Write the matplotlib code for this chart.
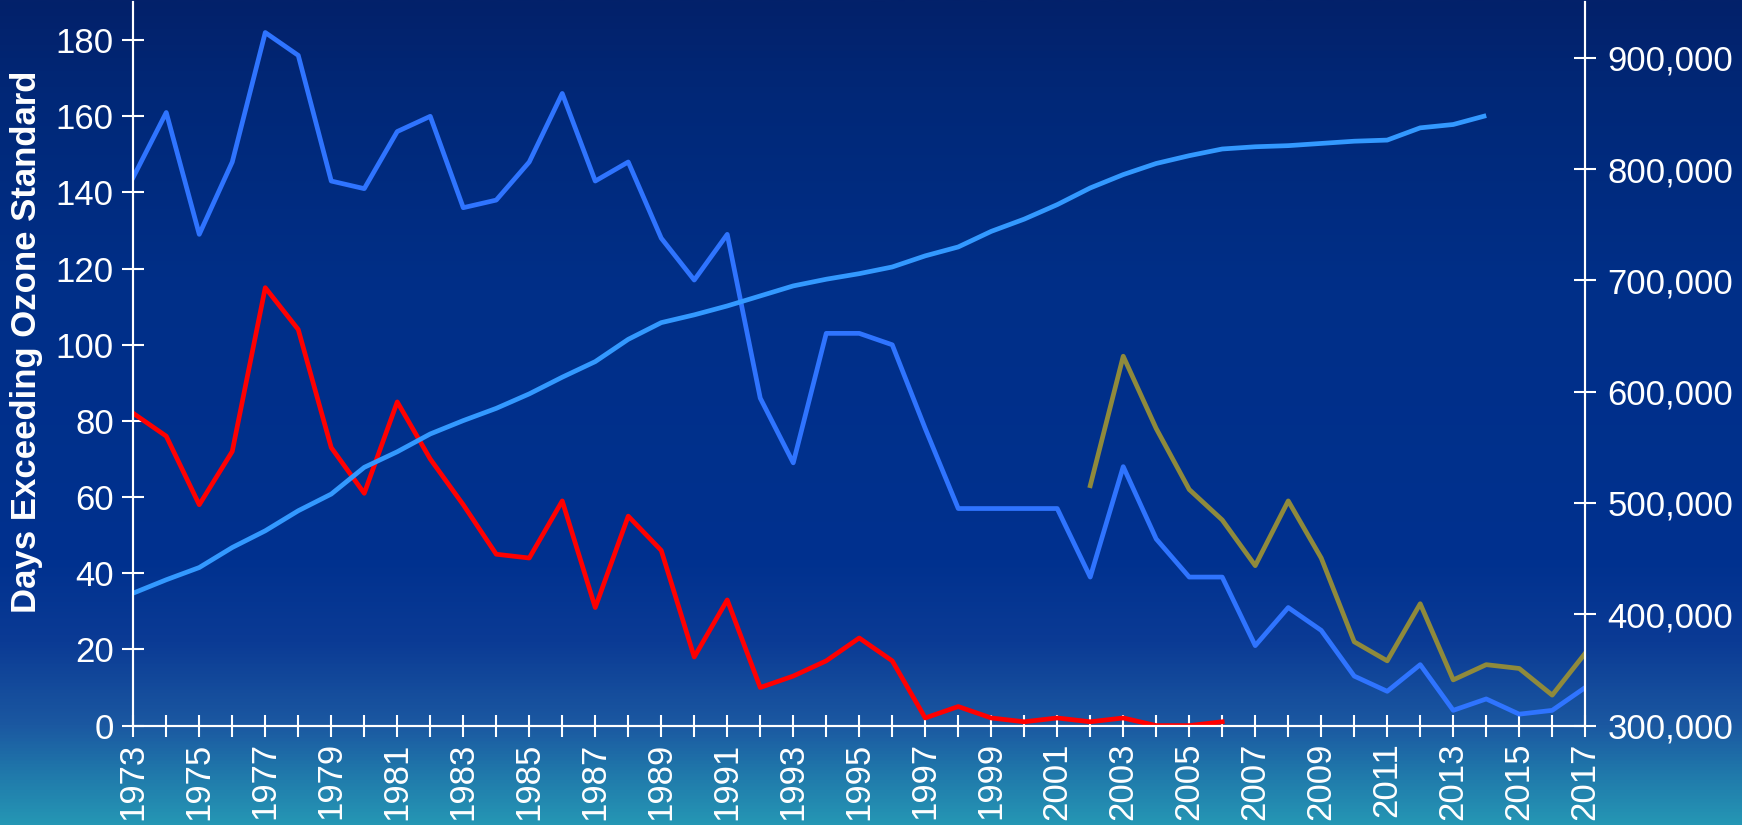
import numpy as np
import matplotlib.pyplot as plt
from matplotlib.colors import LinearSegmentedColormap
from matplotlib.ticker import FuncFormatter

plt.rcParams['font.family'] = ['Liberation Sans', 'DejaVu Sans']

years = list(range(1973, 2018))

# days exceeding standard (blue, whole period)
days_blue = [144, 161, 129, 148, 182, 176, 143, 141, 156, 160,
             136, 138, 148, 166, 143, 148, 128, 117, 129, 86,
             69, 103, 103, 100, 78, 57, 57, 57, 57, 39,
             68, 49, 39, 39, 21, 31, 25, 13, 9, 16,
             4, 7, 3, 4, 10]

# red series, 1973-2006
years_red = list(range(1973, 2007))
days_red = [82, 76, 58, 72, 115, 104, 73, 61, 85, 70,
            58, 45, 44, 59, 31, 55, 46, 18, 33, 10,
            13, 17, 23, 17, 2, 5, 2, 1, 2, 1,
            2, 0, 0, 1]

# olive series, 2002-2017
years_olive = list(range(2002, 2018))
days_olive = [63, 97, 78, 62, 54, 42, 59, 44, 22, 17,
              32, 12, 16, 15, 8, 19]

# population (right axis), 1973-2014
years_pop = list(range(1973, 2015))
population = [419000, 431000, 442000, 460000, 475000, 493000, 508000, 532000, 546000, 562000,
              574000, 585000, 598000, 613000, 627000, 647000, 662000, 669000, 677000, 686000,
              695000, 701000, 706000, 712000, 722000, 730000, 744000, 755000, 768000, 783000,
              795000, 805000, 812000, 818000, 820000, 821000, 823000, 825000, 826000, 837000,
              840000, 848000]

fig = plt.figure(figsize=(17.42, 8.25), dpi=100)

# gradient background
bg = fig.add_axes([0, 0, 1, 1], zorder=0)
cmap = LinearSegmentedColormap.from_list('bg', [
    (0.0, '#2596b4'), (0.06, '#2079ab'), (0.12, '#1b58a1'),
    (0.22, '#0b3b95'), (0.32, '#00318f'), (0.65, '#002f88'),
    (0.88, '#012878'), (1.0, '#03216a')])
grad = np.linspace(0, 1, 512).reshape(-1, 1)
bg.imshow(grad, aspect='auto', cmap=cmap, origin='lower', extent=[0, 1, 0, 1])
bg.axis('off')

ax = fig.add_axes([0.0765, 0.1205, 0.8335, 0.877], zorder=1)
ax.patch.set_alpha(0)
ax2 = ax.twinx()

ax2.plot(years_pop, population, color='#3399ff', lw=3.4, solid_capstyle='butt')
ax.plot(years, days_blue, color='#2f74ff', lw=3.4)
ax.plot(years_red, days_red, color='#ff0000', lw=3.4)
ax.plot(years_olive, days_olive, color='#8f8a3c', lw=3.4)

ax.set_xlim(1973, 2017)
ax.set_ylim(0, 190)
ax2.set_ylim(300000, 950000)

ax.set_xticks(years)
ax.set_xticklabels([str(y) if (y - 1973) % 2 == 0 else '' for y in years], rotation=90)
ax.set_yticks(range(0, 181, 20))
ax2.set_yticks(range(300000, 900001, 100000))
ax2.yaxis.set_major_formatter(FuncFormatter(lambda v, p: f'{int(v):,}'))

for a in (ax, ax2):
    for s in a.spines.values():
        s.set_color('white')
        s.set_linewidth(1.5)
    a.spines['top'].set_visible(False)
    a.tick_params(colors='white', labelsize=25, direction='inout', length=16, width=1.5)

ax.tick_params(axis='x', pad=4)
ax.tick_params(axis='y', pad=6)
ax2.tick_params(axis='y', pad=8)

ax.set_ylabel('Days Exceeding Ozone Standard', color='white', fontsize=25,
              fontweight='bold')
ax.yaxis.set_label_coords(-0.062, 0.53)

plt.savefig('out.png', dpi=100)
